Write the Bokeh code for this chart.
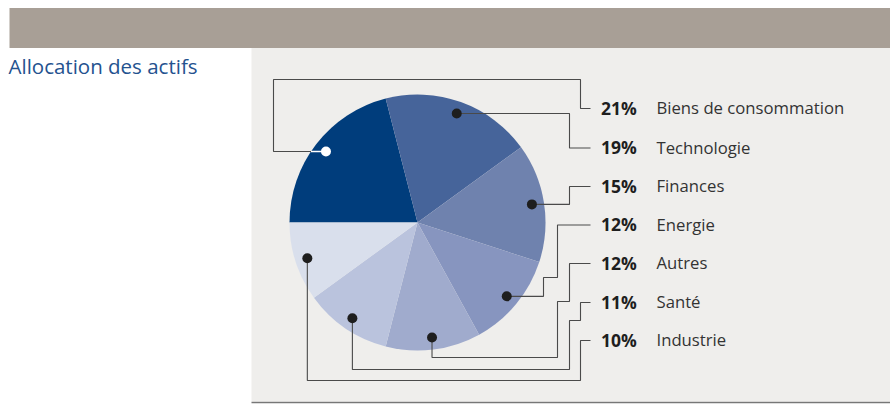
import numpy as np
from bokeh.plotting import figure
from bokeh.models import ColumnDataSource, Range1d
from bokeh.core.properties import value
from bokeh.embed import file_html
from bokeh.resources import INLINE

# ---- data ----
categories = ["Biens de consommation", "Technologie", "Finances", "Energie", "Autres", "Santé", "Industrie"]
shares = [21, 19, 15, 12, 12, 11, 10]
pct_labels = ["21%", "19%", "15%", "12%", "12%", "11%", "10%"]
colors = ["#003d7c", "#46649a", "#6f82ae", "#8795bf", "#a0abcd", "#bac3dd", "#d9dfec"]
title_text = "Allocation des actifs"

W, H = 890, 406
OX, OY = 0, 0


def sx(x):
    return x - OX


def sy(y):
    return (OY + H) - y


p = figure(width=W, height=H, output_backend="svg", toolbar_location=None,
           x_range=Range1d(0, W), y_range=Range1d(0, H), min_border=0)
p.axis.visible = False
p.grid.visible = False
p.outline_line_color = None
p.background_fill_color = "white"
p.border_fill_color = "white"

# header bar and panel
p.quad(left=[sx(9)], right=[sx(890)], top=[sy(7.5)], bottom=[sy(47.5)],
       fill_color="#a89f96", line_color=None)
p.quad(left=[sx(251)], right=[sx(890)], top=[sy(47.5)], bottom=[sy(401)],
       fill_color="#efeeec", line_color=None)
p.segment(x0=[sx(251)], x1=[sx(890)], y0=[sy(402)], y1=[sy(402)],
          line_color="#777777", line_width=1.5)

# title
p.text(x=[sx(8)], y=[sy(65.5)], text=[title_text], text_font=value("Open Sans"),
       text_font_size="20.5px", text_color="#24528f", text_baseline="middle")

# pie
cx, cy, R = sx(417), sy(222), 128
vals = np.array(shares, dtype=float)
frac = vals / vals.sum()
cum = np.concatenate([[0], np.cumsum(frac)])
start = np.pi - 2 * np.pi * cum[:-1]
end = np.pi - 2 * np.pi * cum[1:]
mid = (start + end) / 2
src = ColumnDataSource(dict(start=start, end=end, color=colors,
                            x=[cx] * len(vals), y=[cy] * len(vals)))
p.wedge(x="x", y="y", radius=R, start_angle="start", end_angle="end",
        direction="clock", fill_color="color", line_color=None, source=src)

# dots
dr = 0.905 * R
dx = cx + dr * np.cos(mid)
dy = cy + dr * np.sin(mid)

# label rows (screen y)
label_y = [108, 147.5, 186, 224.5, 263, 302, 340]
ly = [sy(v) for v in label_y]
end_x = sx(590)

routes = []
# Biens
routes.append([(dx[0], dy[0]), (sx(273), dy[0]), (sx(273), sy(79)), (sx(580), sy(79)),
               (sx(580), ly[0]), (end_x, ly[0])])
# Technologie
routes.append([(dx[1], dy[1]), (sx(569), dy[1]), (sx(569), ly[1]), (end_x, ly[1])])
# Finances
routes.append([(dx[2], dy[2]), (sx(569), dy[2]), (sx(569), ly[2]), (end_x, ly[2])])
# Energie
routes.append([(dx[3], dy[3]), (sx(543), dy[3]), (sx(543), sy(277)), (sx(557), sy(277)),
               (sx(557), ly[3]), (end_x, ly[3])])
# Autres
routes.append([(dx[4], dy[4]), (dx[4], sy(357)), (sx(557), sy(357)), (sx(557), sy(301)),
               (sx(569), sy(301)), (sx(569), ly[4]), (end_x, ly[4])])
# Santé
routes.append([(dx[5], dy[5]), (dx[5], sy(369)), (sx(569), sy(369)), (sx(569), sy(320)),
               (sx(580), sy(320)), (sx(580), ly[5]), (end_x, ly[5])])
# Industrie
routes.append([(dx[6], dy[6]), (dx[6], sy(380)), (sx(580), sy(380)), (sx(580), ly[6]),
               (end_x, ly[6])])

p.multi_line(xs=[[pt[0] for pt in r] for r in routes],
             ys=[[pt[1] for pt in r] for r in routes],
             line_color="#4a4a4a", line_width=1.1)

# white part of the first leader inside the dark slice
edge_x = cx - np.sqrt(R ** 2 - (dy[0] - cy) ** 2)
p.segment(x0=[dx[0]], x1=[edge_x], y0=[dy[0]], y1=[dy[0]], line_color="white", line_width=1.3)

dot_colors = ["white"] + ["#1e1e1e"] * (len(vals) - 1)
p.scatter(x=dx, y=dy, size=10, fill_color=dot_colors, line_color=None)

# labels
text_y = [v + 1 for v in ly]
lab = ColumnDataSource(dict(y=text_y, pct=pct_labels, name=categories,
                            xp=[sx(600.5)] * len(ly), xn=[sx(656)] * len(ly)))
p.text(x="xp", y="y", text="pct", source=lab, text_font=value("Open Sans"),
       text_font_style="bold", text_font_size="17.5px", text_color="#1e1e1e",
       text_baseline="middle")
p.text(x="xn", y="y", text="name", source=lab, text_font=value("Open Sans"),
       text_font_size="16.7px", text_color="#333333", text_baseline="middle")

open("out.html", "w").write(file_html(p, INLINE))
